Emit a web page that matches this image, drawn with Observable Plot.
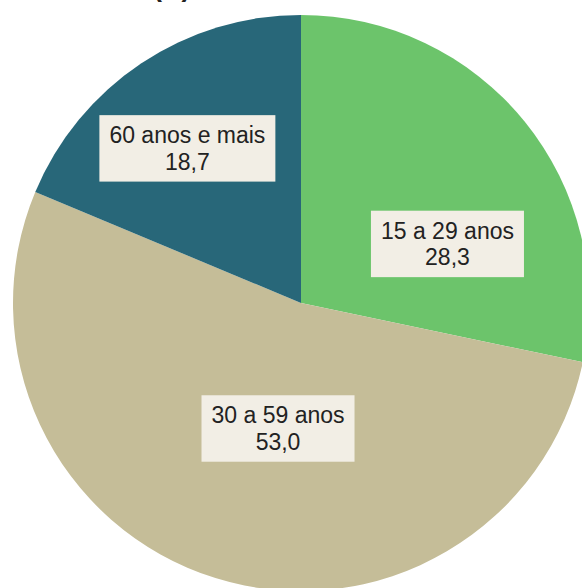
<!DOCTYPE html>
<html>
<head>
<meta charset="utf-8">
<script src="https://cdn.jsdelivr.net/npm/d3@7"></script>
<script src="https://cdn.jsdelivr.net/npm/@observablehq/plot@0.6"></script>
<style>
  html, body { margin: 0; padding: 0; background: #fff; overflow: hidden; }
  #wrap { position: relative; width: 582px; height: 588px; }
  #title { position: absolute; left: 153px; top: -26px; font: bold 27px/27px "Liberation Sans", Arial, sans-serif; color: #222; z-index: 2; }
  #chart { position: absolute; left: 0; top: 0; }
</style>
</head>
<body>
<div id="wrap">
  <div id="title">(A)</div>
  <div id="chart"></div>
</div>
<script>
// ---- data ----
const categories = ["15 a 29 anos", "30 a 59 anos", "60 anos e mais"];
const shares = [28.3, 53.0, 18.7];
const valueLabels = ["28,3", "53,0", "18,7"];

// ---- styling / layout (kept separate from the data) ----
const colors = ["#6CC46B", "#C5BD98", "#286779"];
const labelAngleShift = [16.7, -6.6, -2.6];   // degrees, relative to slice middle
const labelRadius = [0.548, 0.44, 0.67];      // fraction of pie radius

const W = 582, H = 588;
const R = 288, CX = 301, CY = 303; // pixel geometry of the pie

const pie = d3.pie().sort(null).value(d => d.value)(
  categories.map((c, i) => ({category: c, value: shares[i], color: colors[i], label: valueLabels[i]}))
);

const labels = pie.map((a, i) => {
  const mid = (a.startAngle + a.endAngle) / 2 + labelAngleShift[i] * Math.PI / 180;
  const rf = labelRadius[i];
  return {x: rf * Math.sin(mid), y: rf * Math.cos(mid), text: a.data.category + "\n" + a.data.label};
});

function slices(index, scales) {
  const x0 = scales.x(0), y0 = scales.y(0);
  const r = scales.x(1) - scales.x(0);
  const arc = d3.arc().innerRadius(0).outerRadius(r);
  const g = d3.create("svg:g").attr("transform", `translate(${x0},${y0})`);
  g.selectAll("path").data(pie).join("path")
    .attr("d", arc)
    .attr("fill", d => d.data.color);
  return g.node();
}

const chart = Plot.plot({
  width: W,
  height: H,
  margin: 0,
  x: {domain: [-CX / R, (W - CX) / R], range: [0, W], axis: null},
  y: {domain: [-(H - CY) / R, CY / R], range: [H, 0], axis: null},
  style: {background: "transparent", overflow: "visible"},
  marks: [
    slices,
    Plot.text(labels, {
      x: "x", y: "y", text: "text",
      fontSize: 23,
      lineHeight: 1.15,
      fontFamily: "\"Liberation Sans\", Arial, sans-serif",
      fill: "#222",
      className: "pie-label"
    })
  ]
});
document.getElementById("chart").appendChild(chart);

// background boxes behind each label
const padX = 10, padY = 7;
chart.querySelectorAll("g.pie-label text, .pie-label text").forEach(t => {
  const b = t.getBBox();
  const rect = document.createElementNS("http://www.w3.org/2000/svg", "rect");
  rect.setAttribute("x", b.x - padX);
  rect.setAttribute("y", b.y - padY);
  rect.setAttribute("width", b.width + 2 * padX);
  rect.setAttribute("height", b.height + 2 * padY);
  rect.setAttribute("fill", "#F2EEE5");
  const tr = t.getAttribute("transform");
  if (tr) rect.setAttribute("transform", tr);
  t.parentNode.insertBefore(rect, t);
});
</script>
</body>
</html>
